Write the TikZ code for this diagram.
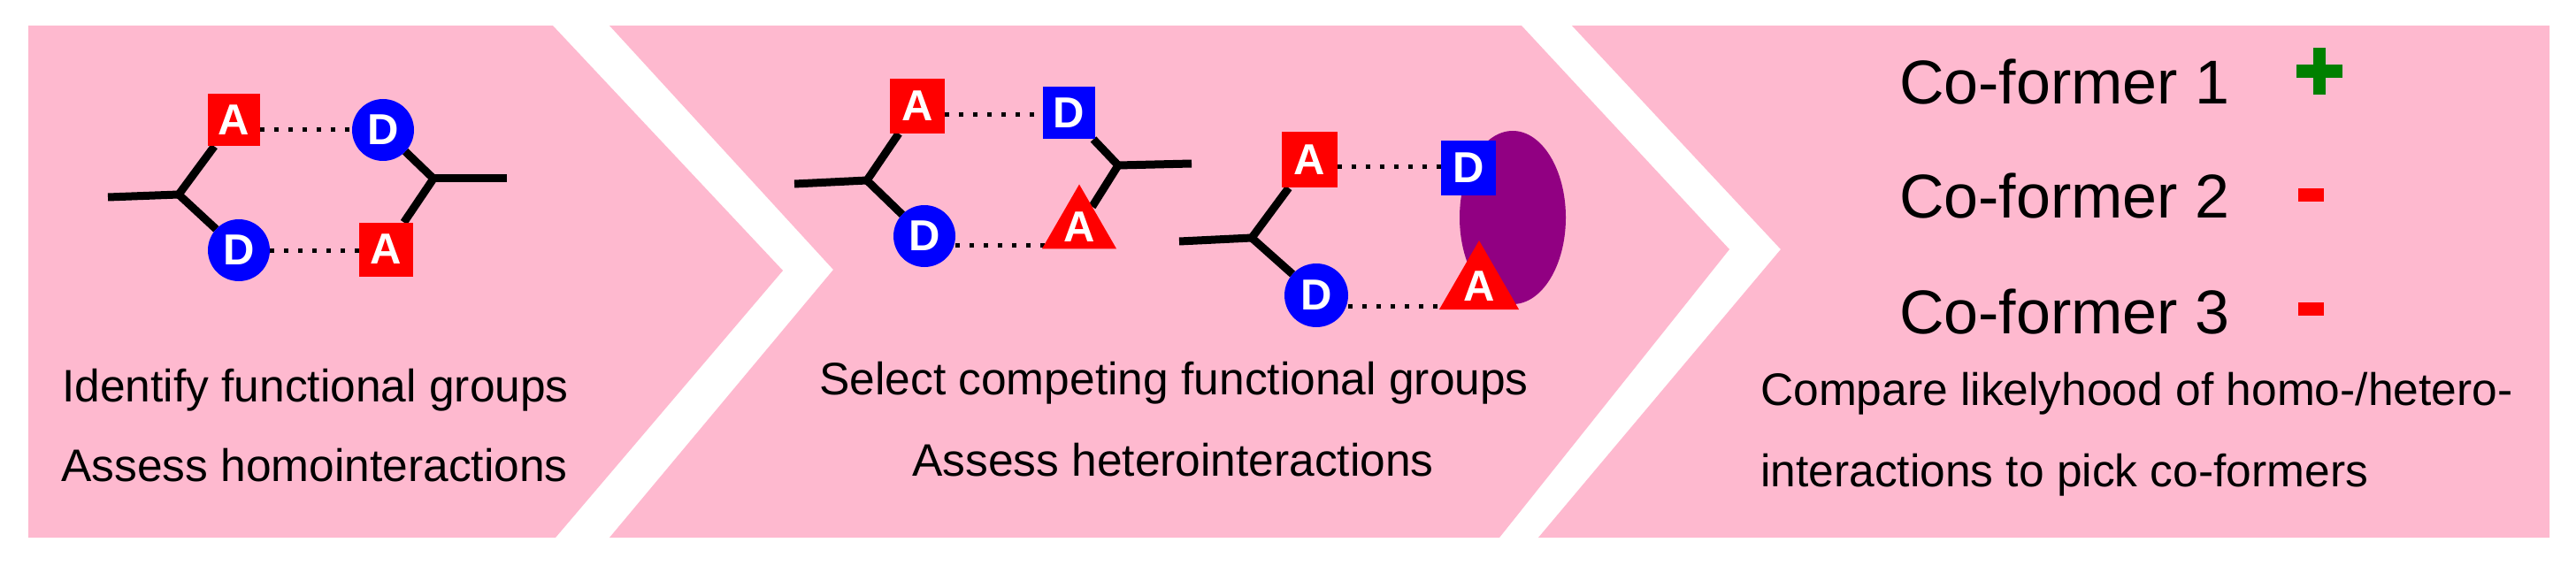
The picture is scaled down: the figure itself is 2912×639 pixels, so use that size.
\documentclass[tikz,border=0pt]{standalone}
\usepackage{fontspec}
\setmainfont{Liberation Sans}
\usetikzlibrary{shapes.geometric}
\definecolor{panelpink}{RGB}{254,185,207}
\definecolor{molpurple}{RGB}{145,0,130}
\definecolor{accred}{RGB}{255,0,0}
\definecolor{donblue}{RGB}{0,0,255}
\definecolor{plusgreen}{RGB}{0,128,0}
\pgfdeclarelayer{back}
\pgfdeclarelayer{mid}
\pgfsetlayers{back,mid,main}
\begin{document}
\begin{tikzpicture}[x=1pt,y=-1pt,
  panel/.style={fill=panelpink,draw=none},
  letter/.style={text=white,font=\fontsize{49}{49}\selectfont\bfseries,inner sep=0pt,outer sep=0pt},
  accsq/.style={letter,rectangle,fill=accred},
  donsq/.style={letter,rectangle,fill=donblue},
  doncirc/.style={letter,circle,fill=donblue},
  tri/.style={regular polygon,regular polygon sides=3,fill=accred,inner sep=0pt,outer sep=0pt},
  bond/.style={line width=9pt,black},
  hbond/.style={line width=5pt,black,dash pattern=on 5pt off 11pt},
  caption/.style={font=\fontsize{51.5}{60}\selectfont,inner sep=0pt},
  coformer/.style={font=\fontsize{70}{80}\selectfont,inner sep=0pt,anchor=base west}
]
\useasboundingbox (0,0) rectangle (2912,639);
\begin{pgfonlayer}{back}
\fill[white] (0,0) rectangle (2912,639);
% panels
\fill[panel] (32,29) -- (625,29) -- (885,306) -- (628,608) -- (32,608) -- cycle;
\fill[panel] (689,29) -- (1720,29) -- (1955,282) -- (1695,608) -- (689,608) -- (942,305) -- cycle;
\fill[panel] (1777,29) -- (2882,29) -- (2882,608) -- (1739,608) -- (2013,282) -- cycle;
\end{pgfonlayer}

% ---------- panel 1 ----------
\node[accsq,minimum size=59pt] (A1) at (264,136) {A};
\node[doncirc,minimum size=70pt] (D1) at (433,147) {D};
\node[doncirc,minimum size=70pt] (D2) at (270,283) {D};
\node[accsq,minimum size=61pt] (A2) at (436,282) {A};
\coordinate (j1) at (202,220);
\coordinate (e1) at (122,223);
\coordinate (j2) at (490,202);
\coordinate (e2) at (573,202);
\begin{pgfonlayer}{mid}
\draw[bond] (e1) -- (j1);
\draw[bond] (j1) -- (A1);
\draw[bond] (j1) -- (D2);
\draw[bond] (j2) -- (D1);
\draw[bond] (j2) -- (e2);
\draw[bond] (j2) -- (A2);
\draw[hbond] (A1.east |- D1) -- (D1.west);
\draw[hbond] (D2.east) -- (A2.west |- D2);
\end{pgfonlayer}
\node[caption,anchor=base west] (t1a) at (70,454) {Identify functional groups};
\node[caption,anchor=base west] (t1b) at (69,544) {Assess homointeractions};

% ---------- panel 2, molecule pair 1 ----------
\node[accsq,minimum size=62pt] (A3) at (1037,120) {A};
\node[donsq,minimum size=59pt] (D3) at (1208,128) {D};
\node[doncirc,minimum size=70pt] (D4) at (1045,267) {D};
\node[tri,minimum size=97pt] (T1) at (1220,257) {};
\node[letter] (T1l) at (T1.center) {A};
\coordinate (j3) at (980,204);
\coordinate (e3) at (898,208);
\coordinate (j4) at (1264,187);
\coordinate (e4) at (1347,185);
\begin{pgfonlayer}{mid}
\draw[bond] (e3) -- (j3);
\draw[bond] (j3) -- (A3);
\draw[bond] (j3) -- (D4);
\draw[bond] (j4) -- (D3);
\draw[bond] (j4) -- (e4);
\draw[bond] (j4) -- (T1);
\draw[hbond] (A3.east |- 0,130) -- (D3.west |- 0,130);
\draw[hbond] (D4.east |- 0,277) -- (1181,277);
\end{pgfonlayer}

% ---------- panel 2, molecule with purple co-former ----------
\node[ellipse,fill=molpurple,minimum width=120pt,minimum height=196pt,inner sep=0pt] (E) at (1710,246) {};
\node[accsq,minimum size=63pt] (A4) at (1480,181) {A};
\node[donsq,minimum size=62pt] (D5) at (1660,190) {D};
\node[doncirc,minimum size=72pt] (D6) at (1488,334) {D};
\node[tri,minimum size=104pt] (T2) at (1672,324) {};
\node[letter] (T2l) at (T2.center) {A};
\coordinate (j5) at (1415,269);
\coordinate (e5) at (1333,273);
\begin{pgfonlayer}{mid}
\draw[bond] (e5) -- (j5);
\draw[bond] (j5) -- (A4);
\draw[bond] (j5) -- (D6);
\draw[hbond] (A4.east |- 0,189) -- (D5.west |- 0,189);
\draw[hbond] (D6.east |- 0,346) -- (1630,346);
\end{pgfonlayer}
\node[caption,anchor=base] (t2a) at (1327,446) {Select competing functional groups};
\node[caption,anchor=base] (t2b) at (1326,538) {Assess heterointeractions};

% ---------- panel 3 ----------
\node[coformer] (c1) at (2147,118) {Co-former 1};
\node[coformer] (c2) at (2147,247) {Co-former 2};
\node[coformer] (c3) at (2147,377) {Co-former 3};
\fill[plusgreen] (2596,73) rectangle (2648,88);
\fill[plusgreen] (2615,54) rectangle (2629,107);
\fill[accred] (2598,213) rectangle (2627,228);
\fill[accred] (2598,342) rectangle (2627,357);
\node[caption,anchor=base west] (t3a) at (1990,458) {Compare likelyhood of homo-/hetero-};
\node[caption,anchor=base west] (t3b) at (1990,550) {interactions to pick co-formers};
\end{tikzpicture}
\end{document}
